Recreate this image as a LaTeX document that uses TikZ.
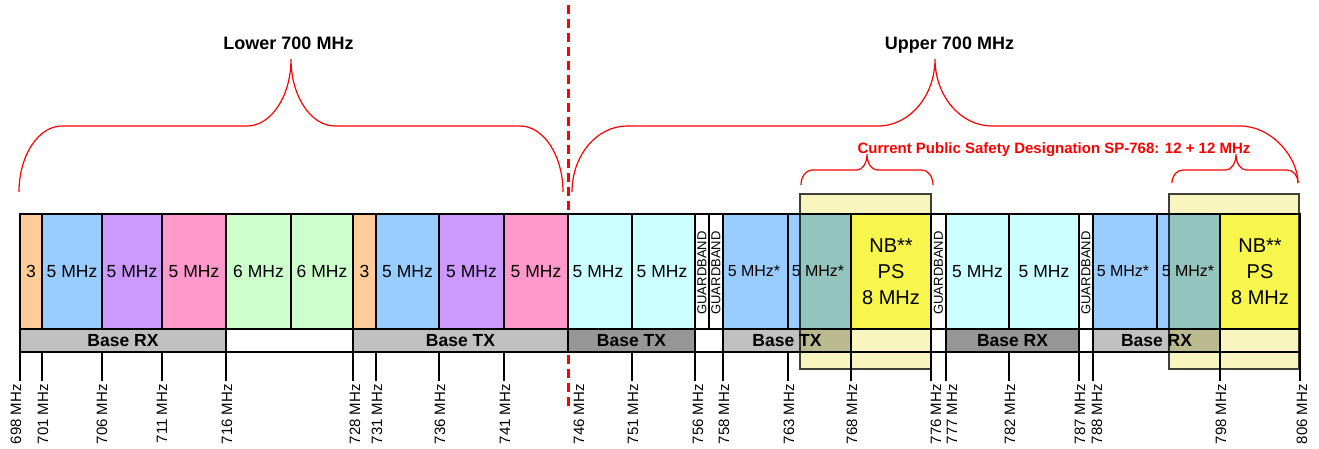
\documentclass[tikz,border=0pt]{standalone}
\usepackage{fontspec}
\setmainfont{Liberation Sans}
\definecolor{corange}{HTML}{FFCC99}
\definecolor{cblue}{HTML}{99CCFF}
\definecolor{cpurple}{HTML}{CC99FF}
\definecolor{cpink}{HTML}{FF99CC}
\definecolor{cgreen}{HTML}{CCFFCC}
\definecolor{ccyan}{HTML}{CCFFFF}
\definecolor{cyellow}{HTML}{FFFF66}
\definecolor{glight}{HTML}{C0C0C0}
\definecolor{gdark}{HTML}{969696}
\definecolor{veil}{RGB}{248,246,190}
\definecolor{braceRed}{RGB}{255,0,0}
\begin{document}
\begin{tikzpicture}[x=1pt,y=-1pt,
  box/.style={draw=black,line width=2.8pt},
  chlabel/.style={font=\fontsize{17.5}{20}\selectfont,inner sep=0pt},
  starlabel/.style={font=\fontsize{16}{19}\selectfont,inner sep=0pt},
  pslabel/.style={font=\fontsize{20}{26}\selectfont,inner sep=0pt,align=center},
  guardlabel/.style={font=\fontsize{13}{15}\selectfont,inner sep=0pt,rotate=90},
  baselabel/.style={font=\bfseries\fontsize{17.5}{20}\selectfont,inner sep=0pt},
  freqlabel/.style={font=\fontsize{15}{17}\selectfont,inner sep=0pt,rotate=90,anchor=east},
  tickline/.style={black,line width=2.6pt},
  divider/.style={braceRed,line width=3pt,dash pattern=on 9pt off 5pt},
  bracket/.style={braceRed,line width=1.2pt},
  titlelabel/.style={font=\bfseries\fontsize{18}{21}\selectfont,inner sep=0pt,anchor=base},
  pslegend/.style={font=\bfseries\fontsize{15}{18}\selectfont,text=braceRed,inner sep=0pt,anchor=base},
  veilbox/.style={fill=veil,draw=black!75,line width=1.2pt,blend mode=multiply}
]
\useasboundingbox (0,0) rectangle (1319,449);

% boundary between lower and upper band
\coordinate (divtop) at (568,5);
\coordinate (divbot) at (568,410);
\draw[divider] (divtop) -- (divbot);

% ---- channel row ----
\path[box,fill=corange] (20,214) rectangle (42,329);
\path[box,fill=cblue]   (42,214) rectangle (102,329);
\path[box,fill=cpurple] (102,214) rectangle (162,329);
\path[box,fill=cpink]   (162,214) rectangle (226,329);
\path[box,fill=cgreen]  (226,214) rectangle (291,329);
\path[box,fill=cgreen]  (291,214) rectangle (353,329);
\path[box,fill=corange] (353,214) rectangle (376,329);
\path[box,fill=cblue]   (376,214) rectangle (439,329);
\path[box,fill=cpurple] (439,214) rectangle (504,329);
\path[box,fill=cpink]   (504,214) rectangle (568,329);
\path[box,fill=ccyan]   (568,214) rectangle (632,329);
\path[box,fill=ccyan]   (632,214) rectangle (695,329);
\path[box,fill=white]   (695,214) rectangle (709,329);
\path[box,fill=white]   (709,214) rectangle (723,329);
\path[box,fill=cblue]   (723,214) rectangle (788,329);
\path[box,fill=cblue]   (788,214) rectangle (851,329);
\path[box,fill=cyellow] (851,214) rectangle (931,329);
\path[box,fill=white]   (931,214) rectangle (946,329);
\path[box,fill=ccyan]   (946,214) rectangle (1009,329);
\path[box,fill=ccyan]   (1009,214) rectangle (1079,329);
\path[box,fill=white]   (1079,214) rectangle (1093,329);
\path[box,fill=cblue]   (1093,214) rectangle (1157,329);
\path[box,fill=cblue]   (1157,214) rectangle (1220,329);
\path[box,fill=cyellow] (1220,214) rectangle (1300,329);

\node[chlabel] (c1)  at (31,271.5)   {3};
\node[chlabel] (c2)  at (72,271.5)   {5 MHz};
\node[chlabel] (c3)  at (132,271.5)  {5 MHz};
\node[chlabel] (c4)  at (194,271.5)  {5 MHz};
\node[chlabel] (c5)  at (258.5,271.5){6 MHz};
\node[chlabel] (c6)  at (322,271.5)  {6 MHz};
\node[chlabel] (c7)  at (364.5,271.5){3};
\node[chlabel] (c8)  at (407.5,271.5){5 MHz};
\node[chlabel] (c9)  at (471.5,271.5){5 MHz};
\node[chlabel] (c10) at (536,271.5)  {5 MHz};
\node[chlabel] (c11) at (598,271.5)  {5 MHz};
\node[chlabel] (c12) at (662,271.5)  {5 MHz};
\node[guardlabel] (g1) at (702,273) {GUARDBAND};
\node[guardlabel] (g2) at (716,273) {GUARDBAND};
\node[starlabel] (c13) at (754,271.5) {5 MHz*};
\node[starlabel] (c14) at (818,271.5) {5 MHz*};
\node[pslabel] (ps1) at (891,271.5) {NB**\\PS\\8 MHz};
\node[guardlabel] (g3) at (938.5,273) {GUARDBAND};
\node[chlabel] (c15) at (977.5,271.5) {5 MHz};
\node[chlabel] (c16) at (1044,271.5)  {5 MHz};
\node[guardlabel] (g4) at (1086,273) {GUARDBAND};
\node[starlabel] (c17) at (1123,271.5) {5 MHz*};
\node[starlabel] (c18) at (1188,271.5) {5 MHz*};
\node[pslabel] (ps2) at (1260,271.5) {NB**\\PS\\8 MHz};

% ---- base station row ----
\path[box,fill=glight] (20,329) rectangle (226,352);
\path[box,fill=white]  (226,329) rectangle (353,352);
\path[box,fill=glight] (353,329) rectangle (568,352);
\path[box,fill=gdark]  (568,329) rectangle (695,352);
\path[box,fill=white]  (695,329) rectangle (723,352);
\path[box,fill=glight] (723,329) rectangle (851,352);
\path[box,fill=white]  (851,329) rectangle (931,352);
\path[box,fill=white]  (931,329) rectangle (946,352);
\path[box,fill=gdark]  (946,329) rectangle (1079,352);
\path[box,fill=white]  (1079,329) rectangle (1093,352);
\path[box,fill=glight] (1093,329) rectangle (1220,352);
\path[box,fill=white]  (1220,329) rectangle (1300,352);

\node[baselabel] (b1) at (123,341)    {Base RX};
\node[baselabel] (b2) at (460.5,341)  {Base TX};
\node[baselabel] (b3) at (631.5,341)  {Base TX};
\node[baselabel] (b4) at (787,341)    {Base TX};
\node[baselabel] (b5) at (1012.5,341) {Base RX};
\node[baselabel] (b6) at (1156.5,341) {Base RX};

% ---- frequency ticks ----
\foreach \x in {20,42,102,162,226,353,376,439,504,632,695,723,788,851,931,946,1009,1079,1093,1220,1300}
  \draw[tickline] (\x,352) -- (\x,381);

\node[freqlabel] (f698) at (16,384)   {698 MHz};
\node[freqlabel] (f701) at (43,384)   {701 MHz};
\node[freqlabel] (f706) at (102,384)  {706 MHz};
\node[freqlabel] (f711) at (162,384)  {711 MHz};
\node[freqlabel] (f716) at (227,384)  {716 MHz};
\node[freqlabel] (f728) at (355,384)  {728 MHz};
\node[freqlabel] (f731) at (377,384)  {731 MHz};
\node[freqlabel] (f736) at (440,384)  {736 MHz};
\node[freqlabel] (f741) at (505,384)  {741 MHz};
\node[freqlabel] (f746) at (579,384)  {746 MHz};
\node[freqlabel] (f751) at (633,384)  {751 MHz};
\node[freqlabel] (f756) at (698,384)  {756 MHz};
\node[freqlabel] (f758) at (724,384)  {758 MHz};
\node[freqlabel] (f763) at (789,384)  {763 MHz};
\node[freqlabel] (f768) at (852,384)  {768 MHz};
\node[freqlabel] (f776) at (936,384)  {776 MHz};
\node[freqlabel] (f777) at (952,384)  {777 MHz};
\node[freqlabel] (f782) at (1010,384) {782 MHz};
\node[freqlabel] (f787) at (1080,384) {787 MHz};
\node[freqlabel] (f788) at (1097,384) {788 MHz};
\node[freqlabel] (f798) at (1221,384) {798 MHz};
\node[freqlabel] (f806) at (1302,384) {806 MHz};

% ---- public safety blocks ----
\path[veilbox] (800,194) rectangle (931,369);
\path[veilbox] (1169,194) rectangle (1299,369);

% ---- braces ----
\draw[bracket] (19,192) .. controls (19,155.6) and (38.3,126) .. (62,126)
  -- (247,126) .. controls (271.3,126) and (291,96) .. (291,59)
  .. controls (291,96) and (310.7,126) .. (335,126)
  -- (520,126) .. controls (543.7,126) and (563,155.6) .. (563,192);
\draw[bracket] (572,192) .. controls (572,155.6) and (596.6,126) .. (627,126)
  -- (878,126) .. controls (909.5,126) and (935,96) .. (935,59)
  .. controls (935,96) and (960.5,126) .. (992,126)
  -- (1240,126) .. controls (1272,126) and (1298,157.5) .. (1298,183);
\draw[bracket] (801,185) .. controls (801,176.7) and (806,170) .. (812,170)
  -- (857,170) .. controls (862.5,170) and (867,163) .. (867,154)
  .. controls (867,163) and (871.5,170) .. (877,170)
  -- (922,170) .. controls (928,170) and (933,176.7) .. (933,185);
\draw[bracket] (1172,183) .. controls (1172,175.5) and (1177,170) .. (1183,170)
  -- (1226,170) .. controls (1231.5,170) and (1236,163) .. (1236,154)
  .. controls (1236,163) and (1240.5,170) .. (1246,170)
  -- (1287,170) .. controls (1293,170) and (1298,175.5) .. (1298,183);

% ---- titles ----
\node[titlelabel] (lower) at (288.5,49.5) {Lower 700 MHz};
\node[titlelabel] (upper) at (949.5,49.5) {Upper 700 MHz};
\node[pslegend] (psnote) at (1054,153.5) {Current Public Safety Designation SP-768: 12 + 12 MHz};
\end{tikzpicture}
\end{document}
